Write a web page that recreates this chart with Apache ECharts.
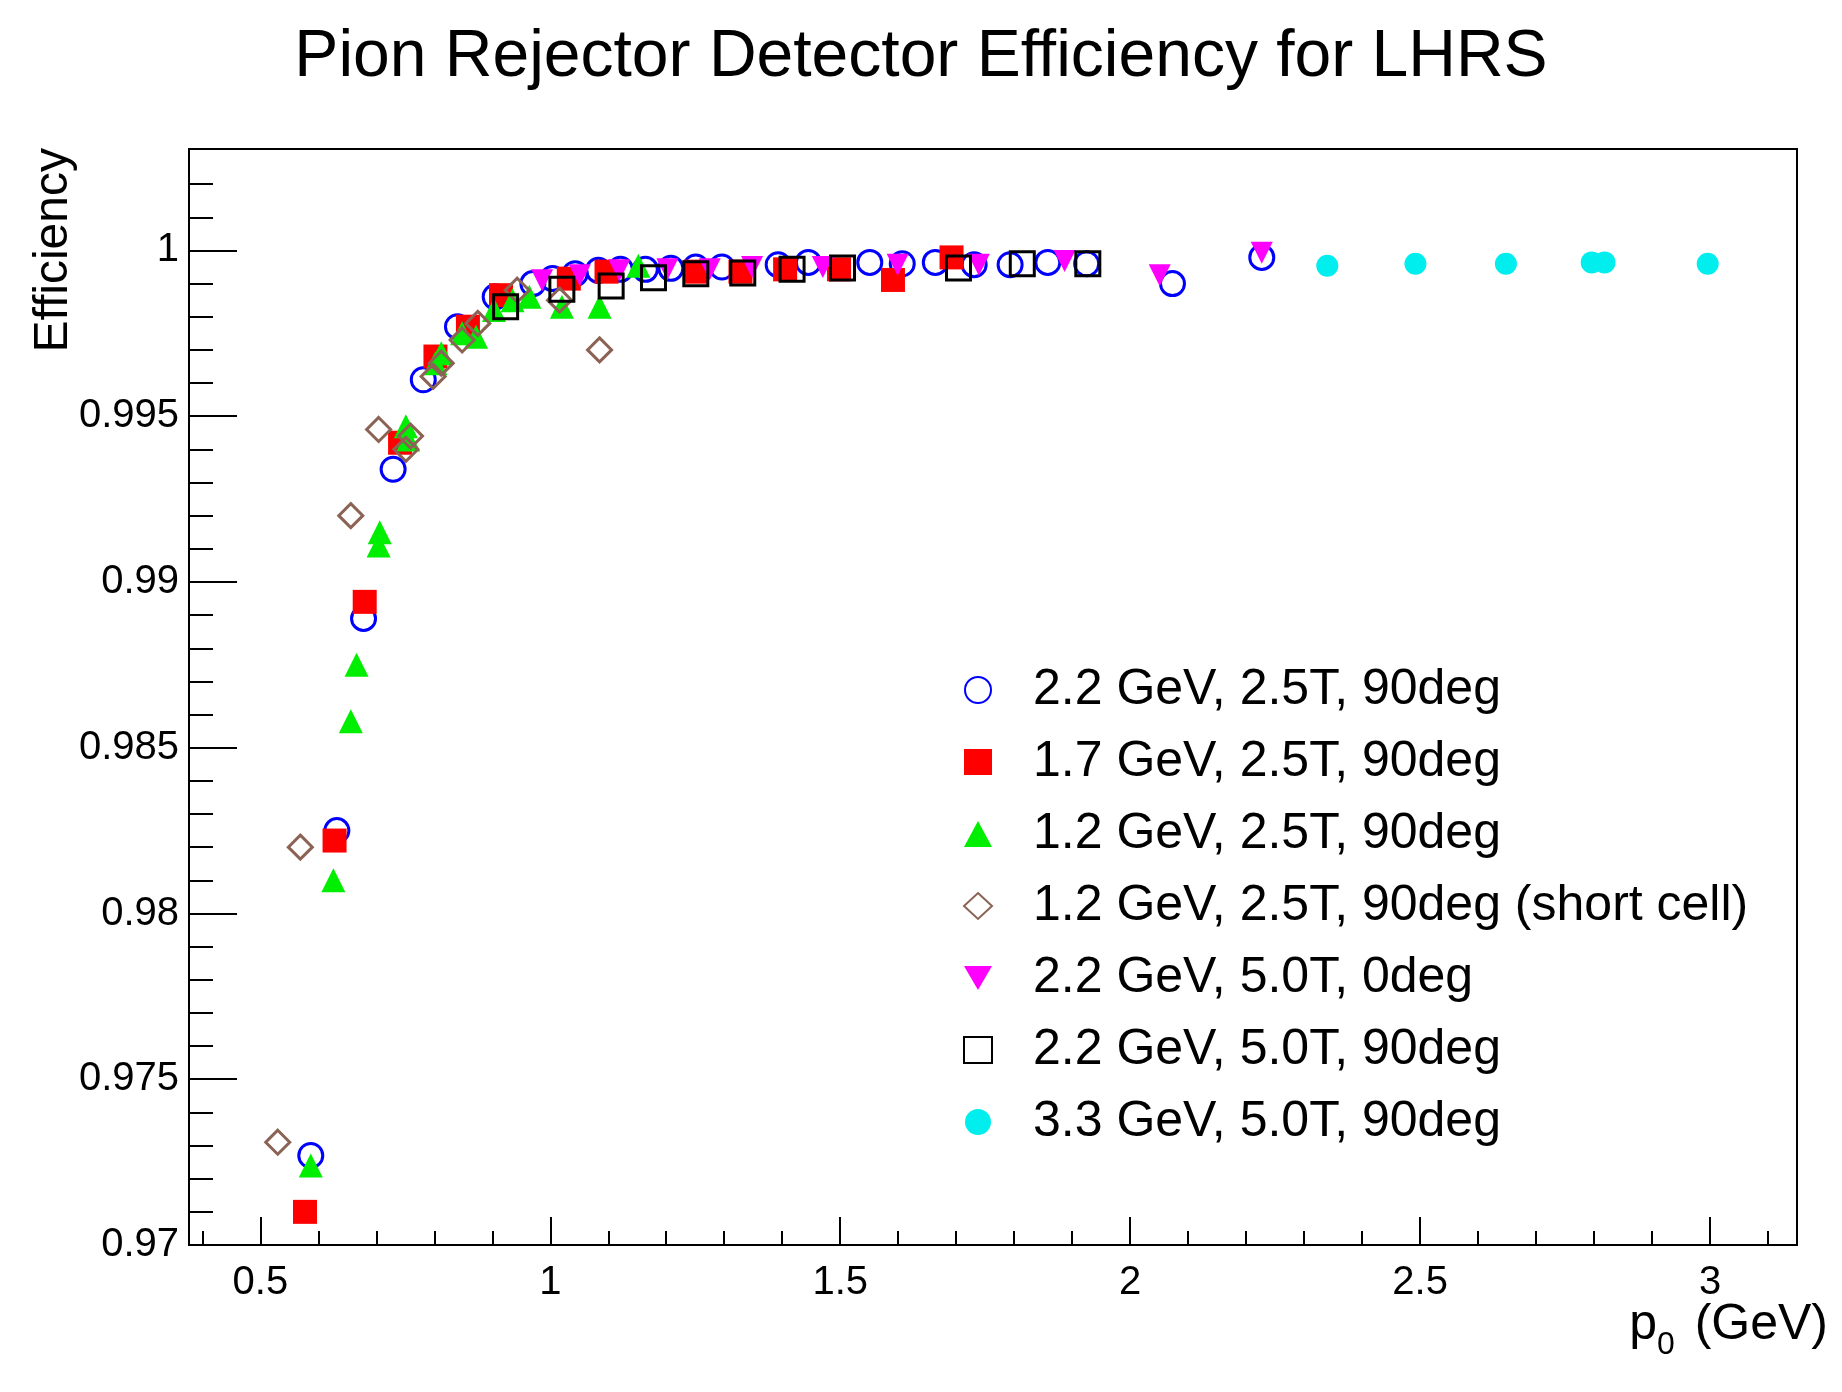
<!DOCTYPE html>
<html>
<head>
<meta charset="utf-8">
<script src="https://cdn.jsdelivr.net/npm/echarts@6/dist/echarts.min.js"></script>
<style>html,body{margin:0;padding:0;background:#fff}#chart{width:1842px;height:1392px}</style>
</head>
<body>
<div id="chart"></div>
<script>
// data: [p0 (GeV), efficiency]
var blue22 = [[0.587,0.9727],[0.632,0.9825],[0.678,0.9889],[0.729,0.9934],[0.781,0.9961],[0.840,0.9977],[0.905,0.9986],[0.970,0.9990],[1.004,0.99915],[1.043,0.9993],[1.083,0.9994],[1.121,0.99943],[1.164,0.99943],[1.208,0.99946],[1.251,0.9995],[1.296,0.9995],[1.393,0.99957],[1.445,0.99964],[1.551,0.99964],[1.607,0.9996],[1.664,0.99964],[1.731,0.99957],[1.793,0.99957],[1.858,0.99964],[1.925,0.9996],[2.073,0.9990],[2.227,0.99979]];
var red17 = [[0.577,0.9710],[0.628,0.9822],[0.680,0.9894],[0.741,0.9942],[0.802,0.9968],[0.858,0.9977],[0.915,0.99865],[1.032,0.99915],[1.097,0.99936],[1.251,0.99936],[1.328,0.99936],[1.405,0.99943],[1.498,0.99943],[1.591,0.99911],[1.692,0.99979]];
var green12 = [[0.587,0.9724],[0.626,0.9810],[0.656,0.9858],[0.666,0.9875],[0.704,0.9911],[0.706,0.9915],[0.751,0.9947],[0.755,0.9943],[0.802,0.9966],[0.812,0.9969],[0.848,0.9975],[0.872,0.9974],[0.903,0.9982],[0.935,0.9985],[0.964,0.9986],[1.020,0.9983],[1.085,0.9983],[1.152,0.99954]];
var brown12 = [[0.530,0.9731],[0.569,0.9820],[0.656,0.9920],[0.704,0.9946],[0.751,0.9940],[0.759,0.9944],[0.798,0.9962],[0.812,0.9966],[0.848,0.9973],[0.875,0.9978],[0.943,0.9988],[1.016,0.9985],[1.085,0.9970]];
var magenta22 = [[0.986,0.9991],[1.051,0.99925],[1.119,0.9994],[1.202,0.99943],[1.275,0.99943],[1.348,0.9995],[1.470,0.9995],[1.599,0.99957],[1.739,0.99957],[1.887,0.99968],[2.051,0.99925],[2.227,0.99993]];
var black22 = [[0.923,0.9983],[1.020,0.99883],[1.105,0.99893],[1.178,0.99918],[1.251,0.9993],[1.332,0.99932],[1.417,0.99943],[1.504,0.99947],[1.704,0.99947],[1.814,0.9996],[1.927,0.9996]];
var cyan33 = [[2.340,0.99954],[2.492,0.9996],[2.648,0.9996],[2.796,0.99964],[2.818,0.99964],[2.996,0.9996]];

var seriesNames = ['2.2 GeV, 2.5T, 90deg','1.7 GeV, 2.5T, 90deg','1.2 GeV, 2.5T, 90deg','1.2 GeV, 2.5T, 90deg (short cell)','2.2 GeV, 5.0T, 0deg','2.2 GeV, 5.0T, 90deg','3.3 GeV, 5.0T, 90deg'];
var xMajor = [0.5,1,1.5,2,2.5,3];
var xMinor = [0.4,0.5,0.6,0.7,0.8,0.9,1,1.1,1.2,1.3,1.4,1.5,1.6,1.7,1.8,1.9,2,2.1,2.2,2.3,2.4,2.5,2.6,2.7,2.8,2.9,3,3.1];
var yMajor = [0.97,0.975,0.98,0.985,0.99,0.995,1];
var yMinor = [0.97,0.971,0.972,0.973,0.974,0.975,0.976,0.977,0.978,0.979,0.98,0.981,0.982,0.983,0.984,0.985,0.986,0.987,0.988,0.989,0.99,0.991,0.992,0.993,0.994,0.995,0.996,0.997,0.998,0.999,1,1.001,1.002];

var font = 'Liberation Sans, Arial, sans-serif';
var invTri = 'path://M0,0 L10,0 L5,8.66 Z';
var xMin = 0.377, xMax = 3.15, yMin = 0.97, yMax = 1.00306;

var chart = echarts.init(document.getElementById('chart'));

function sc(name, data, symbol, color, filled, size) {
    return {
        name: name, type: 'scatter', data: data, symbol: symbol, symbolSize: size || 24,
        xAxisIndex: 0, yAxisIndex: 0,
        itemStyle: filled ? { color: color, opacity: 1 } : { color: 'rgba(0,0,0,0)', borderColor: color, borderWidth: 3, opacity: 1 }
    };
}

var option = {
    animation: false,
    backgroundColor: '#fff',
    textStyle: { fontFamily: font },
    title: {
        text: 'Pion Rejector Detector Efficiency for LHRS',
        left: 'center', top: 20,
        textStyle: { fontSize: 66, fontWeight: 'normal', color: '#000', fontFamily: font }
    },
    grid: { left: 189, right: 45, top: 149, bottom: 147, show: true, borderColor: '#000', borderWidth: 2, backgroundColor: 'transparent' },
    legend: {
        orient: 'vertical', left: 958, top: 660, itemGap: 22,
        itemWidth: 28, itemHeight: 26,
        textStyle: { fontSize: 50, color: '#000', fontFamily: font, padding: [0, 0, 0, 36] },
        data: seriesNames
    },
    xAxis: [{
        type: 'value', min: xMin, max: xMax,
        axisLine: { show: false }, splitLine: { show: false },
        axisTick: { inside: true, length: 28, customValues: xMajor, lineStyle: { color: '#000', width: 2 } },
        axisLabel: { customValues: xMajor, fontSize: 40, color: '#000', margin: 18, fontFamily: font }
    }, {
        type: 'value', min: xMin, max: xMax, position: 'bottom',
        axisLine: { show: false }, splitLine: { show: false },
        axisTick: { inside: true, length: 14, customValues: xMinor, lineStyle: { color: '#000', width: 2 } },
        axisLabel: { show: false }
    }],
    yAxis: [{
        type: 'value', min: yMin, max: yMax,
        axisLine: { show: false }, splitLine: { show: false },
        axisTick: { inside: true, length: 48, customValues: yMajor, lineStyle: { color: '#000', width: 2 } },
        axisLabel: { customValues: yMajor, fontSize: 40, color: '#000', margin: 10, fontFamily: font }
    }, {
        type: 'value', min: yMin, max: yMax, position: 'left',
        axisLine: { show: false }, splitLine: { show: false },
        axisTick: { inside: true, length: 24, customValues: yMinor, lineStyle: { color: '#000', width: 2 } },
        axisLabel: { show: false }
    }],
    graphic: [
        { type: 'text', left: 30, top: 148, rotation: Math.PI / 2, style: { text: 'Efficiency', font: '48px ' + font, fill: '#000' } },
        { type: 'text', right: 14, top: 1300, style: {
            text: '{a|p}{s|0}{a| (GeV)}',
            rich: { a: { fontSize: 50, fontFamily: font, fill: '#000' }, s: { fontSize: 32, fontFamily: font, fill: '#000', padding: [40, 6, 0, 0] } }
        } }
    ],
    series: [
        sc(seriesNames[0], blue22, 'circle', '#0000ff', false, 24),
        sc(seriesNames[1], red17, 'rect', '#ff0000', true, 24),
        sc(seriesNames[2], green12, 'triangle', '#00ee00', true, 24),
        sc(seriesNames[3], brown12, 'diamond', '#8b6355', false, 24),
        sc(seriesNames[4], magenta22, invTri, '#ff00ff', true, 22),
        sc(seriesNames[5], black22, 'rect', '#000000', false, 24),
        sc(seriesNames[6], cyan33, 'circle', '#00eeee', true, 22)
    ]
};
chart.setOption(option);
</script>
</body>
</html>
